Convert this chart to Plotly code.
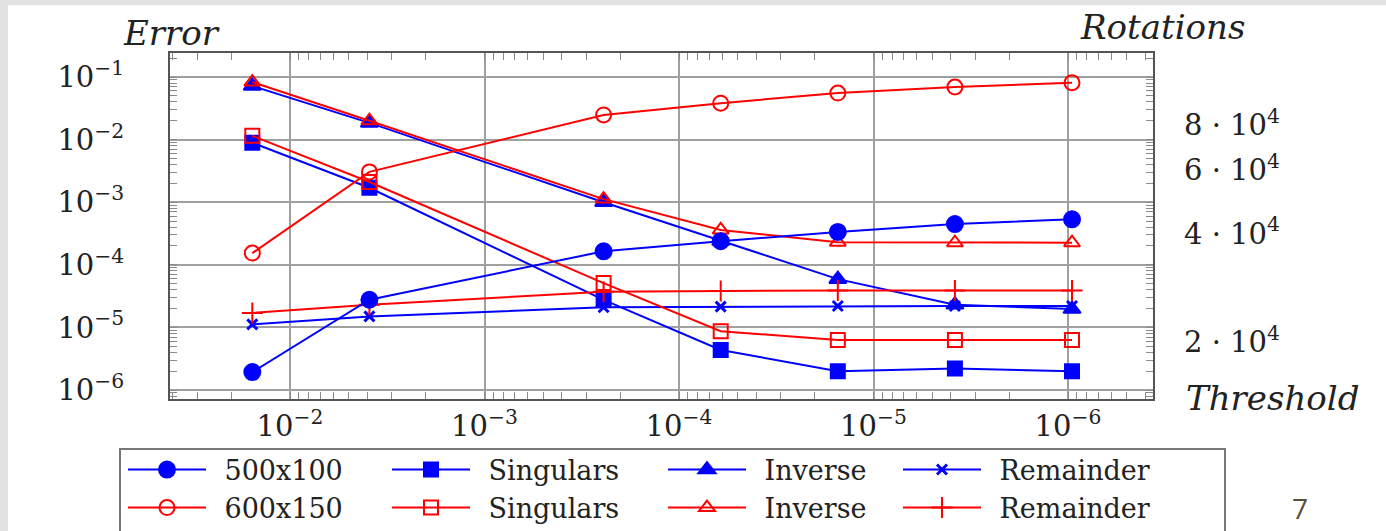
import plotly.graph_objects as go

# Threshold values (x axis, decreasing left to right)
threshold = [1.5625e-2, 3.90625e-3, 2.44140625e-4, 6.103515625e-5,
             1.52587890625e-5, 3.814697265625e-6, 9.5367431640625e-7]

# Rotations (right axis)
rot_500x100 = [16500, 26200, 35700, 38100, 40400, 42500, 43800]
rot_600x150 = [35300, 59300, 85300, 92000, 98100, 102000, 104800]

# Errors (left axis)
sing_500x100 = [8.9e-3, 1.7e-3, 2.75e-5, 4.35e-6, 2.0e-6, 2.2e-6, 2.0e-6]
sing_600x150 = [1.15e-2, 2.1e-3, 5.1e-5, 8.7e-6, 6.3e-6, 6.3e-6, 6.3e-6]
inv_500x100 = [7.2e-2, 1.85e-2, 1.0e-3, 2.4e-4, 5.9e-5, 2.3e-5, 1.96e-5]
inv_600x150 = [8.3e-2, 2.0e-2, 1.12e-3, 3.6e-4, 2.3e-4, 2.25e-4, 2.25e-4]
rem_500x100 = [1.12e-5, 1.5e-5, 2.1e-5, 2.15e-5, 2.2e-5, 2.2e-5, 2.2e-5]
rem_600x150 = [1.7e-5, 2.3e-5, 3.7e-5, 3.8e-5, 3.9e-5, 3.9e-5, 3.9e-5]

# Tick labels
x_tickvals = [1e-2, 1e-3, 1e-4, 1e-5, 1e-6]
x_ticktext = ["10<sup>\u22122</sup>", "10<sup>\u22123</sup>", "10<sup>\u22124</sup>",
              "10<sup>\u22125</sup>", "10<sup>\u22126</sup>"]
y_tickvals = [1e-1, 1e-2, 1e-3, 1e-4, 1e-5, 1e-6]
y_ticktext = ["10<sup>\u22121</sup>", "10<sup>\u22122</sup>", "10<sup>\u22123</sup>",
              "10<sup>\u22124</sup>", "10<sup>\u22125</sup>", "10<sup>\u22126</sup>"]
rot_tickvals = [2e4, 4e4, 6e4, 8e4]
rot_ticktext = ["2 \u00b7 10<sup>4</sup>", "4 \u00b7 10<sup>4</sup>",
                "6 \u00b7 10<sup>4</sup>", "8 \u00b7 10<sup>4</sup>"]

BLUE = "#0000ff"
RED = "#ff0000"
SERIF = "DejaVu Serif"
TEXT = "#222222"
GAP = "\u2002"  # spacing between legend symbol and label

fig = go.Figure()


def add(y, name, color, symbol, size, legend, yaxis="y", lw=2.0, mlw=2.0):
    fig.add_trace(go.Scatter(
        x=threshold, y=y, name=GAP + name, mode="lines+markers", yaxis=yaxis,
        line=dict(color=color, width=lw),
        marker=dict(symbol=symbol, size=size, color=color,
                    line=dict(color=color, width=mlw)),
        legend=legend,
    ))


# each legend entry lives in its own legend box (4 columns x 2 rows)
add(sing_500x100, "Singulars", BLUE, "square", 14, "legend3")
add(inv_500x100, "Inverse", BLUE, "triangle-up", 15, "legend5")
add(rem_500x100, "Remainder", BLUE, "x-thin", 10, "legend7", mlw=3)
add(sing_600x150, "Singulars", RED, "square-open", 14, "legend4")
add(inv_600x150, "Inverse", RED, "triangle-up-open", 14, "legend6")
add(rem_600x150, "Remainder", RED, "cross-thin", 15, "legend8")
add(rot_500x100, "500x100", BLUE, "circle", 16, "legend", yaxis="y2")
add(rot_600x150, "600x150", RED, "circle-open", 15, "legend2", yaxis="y2")

# plot area in pixels
W, H = 1386, 531
L, R, T, B = 170, 233, 53, 132
PW, PH = W - L - R, H - T - B


def px(xp):
    return (xp - L) / PW


def py(yp):
    return (H - B - yp) / PH


legend_common = dict(orientation="v", font=dict(family=SERIF, size=27, color=TEXT),
                     bgcolor="rgba(0,0,0,0)", borderwidth=0, xanchor="left",
                     yanchor="middle", itemwidth=78, tracegroupgap=0,
                     traceorder="normal", itemclick=False)
ROW1, ROW2 = py(470), py(508)
COLS = [px(123), px(387), px(663), px(898)]

legends = {}
for i, cx in enumerate(COLS):
    for j, ry in enumerate((ROW1, ROW2)):
        idx = 2 * i + j + 1
        key = "legend" if idx == 1 else f"legend{idx}"
        legends[key] = dict(legend_common, x=cx, y=ry)

fig.update_layout(
    width=W, height=H, autosize=False,
    margin=dict(l=L, r=R, t=T, b=B, autoexpand=False),
    paper_bgcolor="white", plot_bgcolor="white",
    showlegend=True,
    **legends,
    xaxis=dict(
        type="log", range=[-1.383, -6.437],
        tickvals=x_tickvals, ticktext=x_ticktext,
        tickfont=dict(family=SERIF, size=29, color=TEXT),
        showgrid=True, gridcolor="#a0a0a0", gridwidth=1.7,
        ticks="inside", ticklen=0, ticklabelstandoff=0,
        minor=dict(ticks="inside", ticklen=7, tickcolor="#8a8a8a", tickwidth=1.3,
                   showgrid=False, dtick="D1"),
        showline=True, linecolor="#555555", linewidth=2, mirror="allticks",
        zeroline=False,
    ),
    yaxis=dict(
        type="log", range=[-6.1438, -0.6166],
        tickvals=y_tickvals, ticktext=y_ticktext,
        tickfont=dict(family=SERIF, size=29, color=TEXT),
        showgrid=True, gridcolor="#a0a0a0", gridwidth=1.7,
        ticks="inside", ticklen=0, ticklabelstandoff=38,
        minor=dict(ticks="inside", ticklen=7, tickcolor="#8a8a8a", tickwidth=1.3,
                   showgrid=False, dtick="D1"),
        showline=True, linecolor="#555555", linewidth=2, mirror="allticks",
        zeroline=False,
    ),
    yaxis2=dict(
        type="log", range=[4.1429, 5.1029], overlaying="y", side="right",
        tickvals=rot_tickvals, ticktext=rot_ticktext,
        tickfont=dict(family=SERIF, size=29, color=TEXT),
        showgrid=False, ticks="", ticklabelstandoff=30,
        showline=False, zeroline=False,
    ),
)

# slide border and legend frame
fig.add_shape(type="rect", xref="paper", yref="paper", layer="below",
              x0=px(0), x1=px(8), y0=py(H), y1=py(0),
              fillcolor="#e2e2e2", line=dict(width=0))
fig.add_shape(type="rect", xref="paper", yref="paper", layer="below",
              x0=px(0), x1=px(W), y0=py(5), y1=py(0),
              fillcolor="#e2e2e2", line=dict(width=0))
fig.add_shape(type="rect", xref="paper", yref="paper", layer="below",
              x0=px(120), x1=px(1225), y0=py(570), y1=py(449),
              fillcolor="rgba(0,0,0,0)", line=dict(color="#777777", width=2))

# axis titles and page number
ann = dict(xref="paper", yref="paper", showarrow=False)
fig.add_annotation(ann, x=px(171), y=py(33), text="<i>Error</i>",
                   font=dict(family=SERIF, size=34, color=TEXT),
                   xanchor="center", yanchor="middle")
fig.add_annotation(ann, x=px(1162), y=py(27), text="<i>Rotations</i>",
                   font=dict(family=SERIF, size=34, color=TEXT),
                   xanchor="center", yanchor="middle")
fig.add_annotation(ann, x=px(1272), y=py(398), text="<i>Threshold</i>",
                   font=dict(family=SERIF, size=34, color=TEXT),
                   xanchor="center", yanchor="middle")
fig.add_annotation(ann, x=px(1300), y=py(508), text="7",
                   font=dict(family="Open Sans", size=28, color="#5a5040"),
                   xanchor="center", yanchor="middle")

fig.write_html("out.html")
